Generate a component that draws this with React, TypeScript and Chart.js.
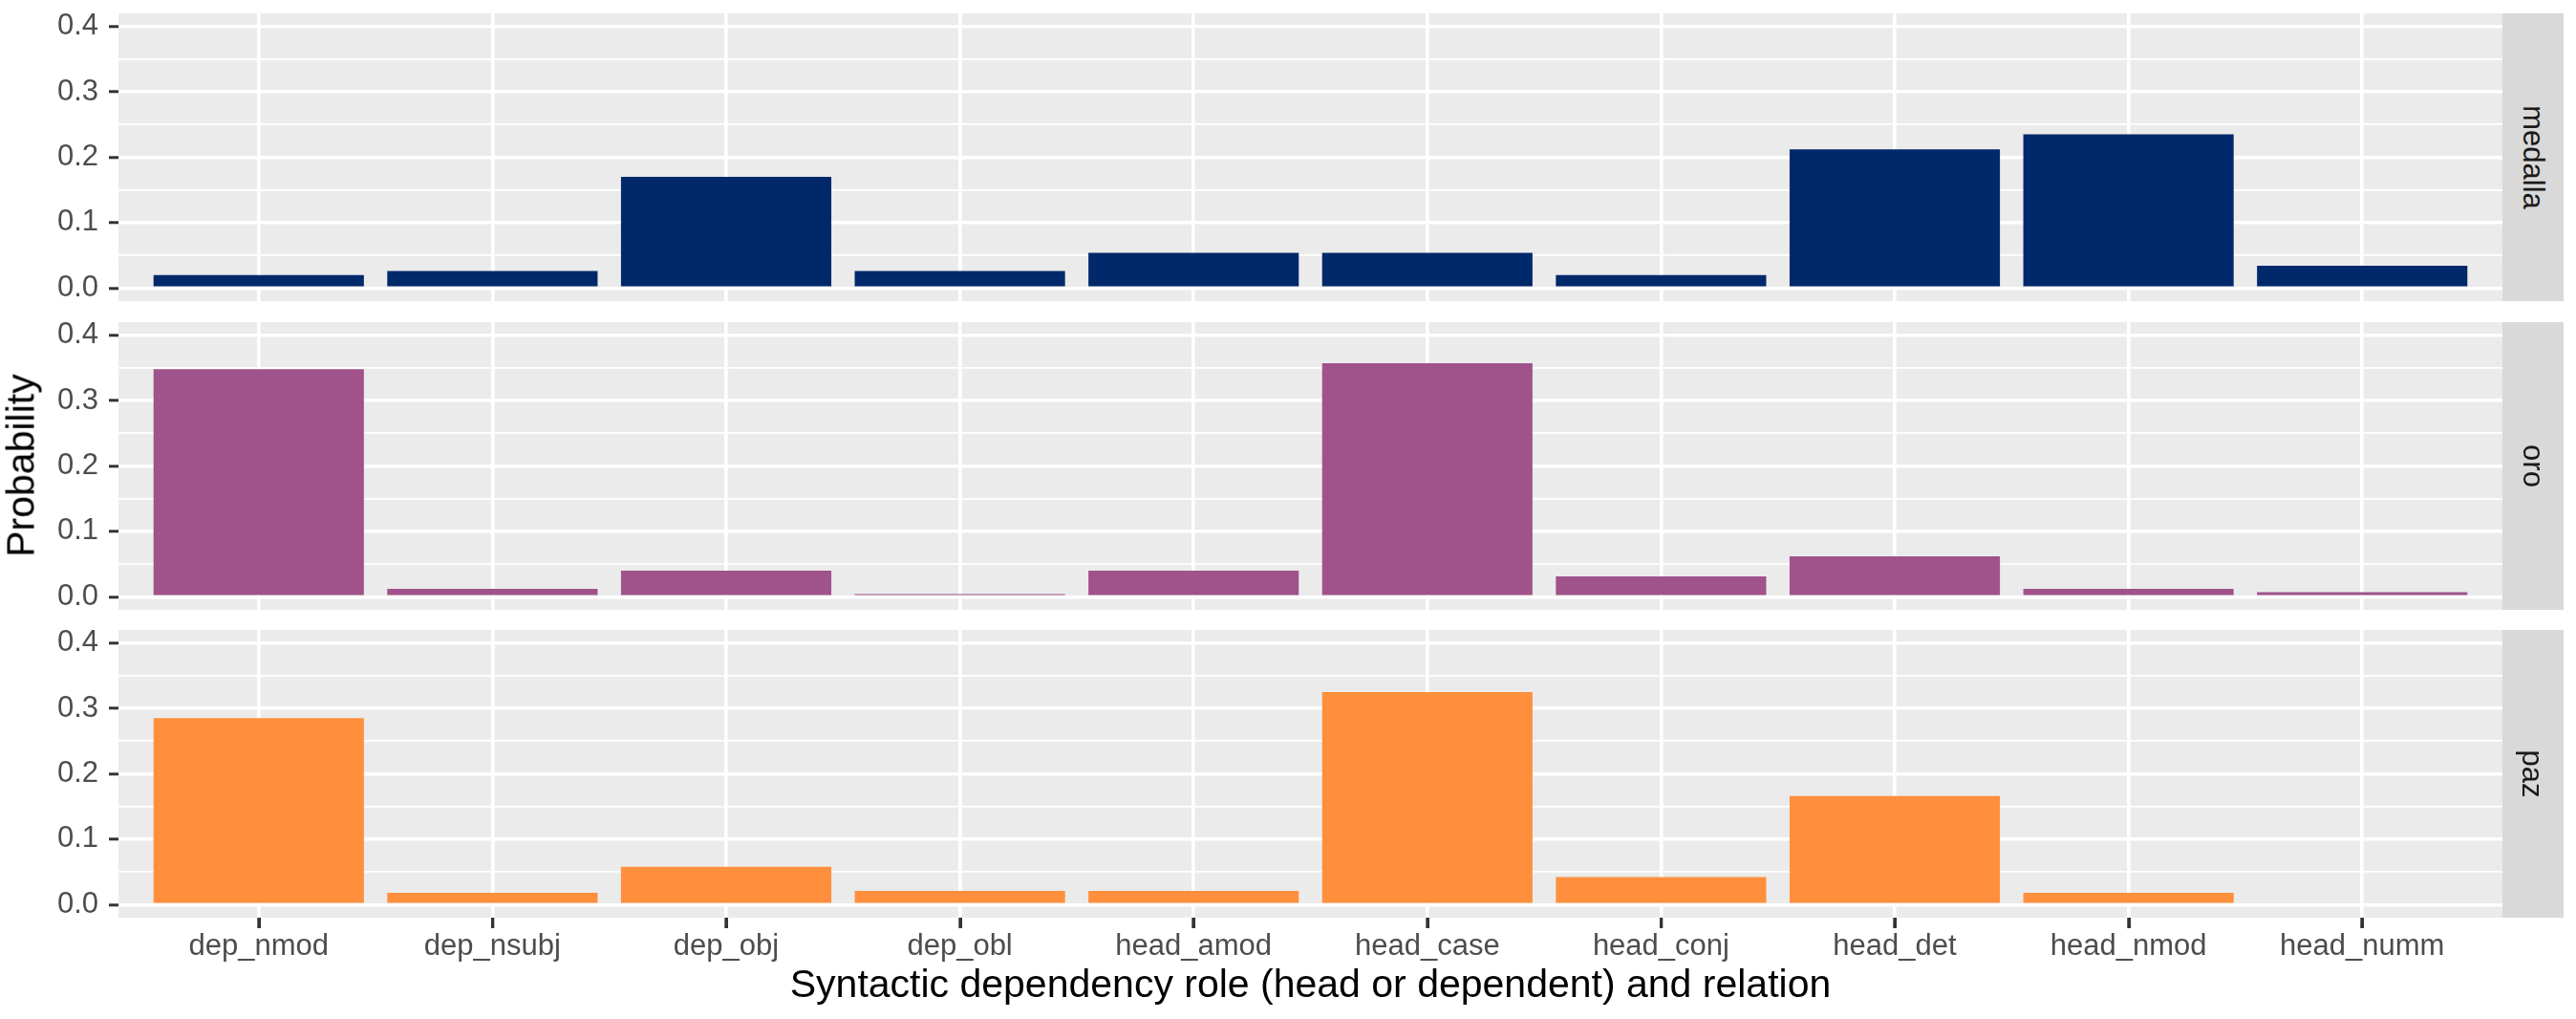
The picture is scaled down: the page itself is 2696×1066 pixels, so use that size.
import React, { useEffect, useRef } from "react";
import { Chart, registerables } from "chart.js";

Chart.register(...registerables);

// ---------- data ----------
const CATEGORIES = [
  "dep_nmod",
  "dep_nsubj",
  "dep_obj",
  "dep_obl",
  "head_amod",
  "head_case",
  "head_conj",
  "head_det",
  "head_nmod",
  "head_numm",
];
const FACETS = ["medalla", "oro", "paz"];
const MEDALLA = [0.020, 0.026, 0.170, 0.026, 0.054, 0.054, 0.020, 0.212, 0.235, 0.034];
const ORO = [0.348, 0.012, 0.040, 0.004, 0.040, 0.357, 0.031, 0.062, 0.012, 0.007];
const PAZ = [0.285, 0.018, 0.058, 0.021, 0.021, 0.325, 0.042, 0.166, 0.018, 0];
const SERIES = [MEDALLA, ORO, PAZ];
const COLORS = ["#00296B", "#A0528A", "#FF8F3D"];
const Y_TICKS = [0, 0.05, 0.1, 0.15, 0.2, 0.25, 0.3, 0.35, 0.4];
const Y_MIN = -0.02;
const Y_MAX = 0.42;
const X_MIN = -0.6;
const X_MAX = 9.6;
const X_TITLE = "Syntactic dependency role (head or dependent) and relation";
const Y_TITLE = "Probability";

// ---------- layout ----------
const FONT = '"Liberation Sans", Arial, Helvetica, sans-serif';
const PANEL_TOPS = [14, 337, 659];
const PANEL_H = 301;
const PLOT_LEFT = 124;
const PLOT_RIGHT = 2619;
const STRIP_W = 64;
const PAD = 10;
const X_AXIS_H = 106;
const X_TICK_LEN = 11;

const isMajor = (v: number) => Math.abs(v * 10 - Math.round(v * 10)) < 1e-6;

const bgPlugin = {
  id: "panelBg",
  beforeDraw(chart: any) {
    const { ctx, chartArea } = chart;
    ctx.save();
    ctx.fillStyle = "#EBEBEB";
    ctx.fillRect(chartArea.left, chartArea.top, chartArea.right - chartArea.left, chartArea.bottom - chartArea.top);
    ctx.restore();
  },
};

// draws the x-axis tick marks below the bottom panel, through the x scale
const xTickPlugin = {
  id: "xTickMarks",
  afterDraw(chart: any) {
    const { ctx, chartArea } = chart;
    const xs = chart.scales.x;
    ctx.save();
    ctx.strokeStyle = "#333333";
    ctx.lineWidth = 3;
    ctx.beginPath();
    CATEGORIES.forEach((_, i) => {
      const px = Math.round(xs.getPixelForValue(i)) + 0.5;
      ctx.moveTo(px, chartArea.bottom);
      ctx.lineTo(px, chartArea.bottom + X_TICK_LEN);
    });
    ctx.stroke();
    ctx.restore();
  },
};

function Panel({ index }: { index: number }) {
  const ref = useRef<HTMLCanvasElement>(null);
  const isBottom = index === 2;
  const top = PANEL_TOPS[index] - PAD;
  const height = PANEL_H + PAD + (isBottom ? X_AXIS_H : PAD);
  const width = PLOT_RIGHT + 1;

  useEffect(() => {
    if (!ref.current) return;
    const values = SERIES[index];
    const chart = new Chart(ref.current, {
      type: "bar",
      data: {
        datasets: [
          {
            data: CATEGORIES.map((_, i) => ({ x: i, y: values[i] })),
            backgroundColor: COLORS[index],
            borderWidth: 0,
            barPercentage: 0.9,
            categoryPercentage: 1.0,
          } as any,
        ],
      },
      options: {
        animation: false,
        responsive: false,
        maintainAspectRatio: false,
        layout: { padding: { left: 0, right: 1, top: PAD, bottom: isBottom ? 0 : PAD } },
        plugins: {
          legend: { display: false },
          tooltip: { enabled: false },
          title: { display: false },
        },
        scales: {
          x: {
            type: "linear",
            min: X_MIN,
            max: X_MAX,
            offset: false,
            afterBuildTicks: (s: any) => {
              s.ticks = CATEGORIES.map((_, i) => ({ value: i }));
            },
            afterFit: (s: any) => {
              s.height = isBottom ? X_AXIS_H : 0;
              s.paddingLeft = 0;
              s.paddingRight = 0;
            },
            grid: {
              offset: false,
              color: "#FFFFFF",
              lineWidth: 3.6,
              drawTicks: isBottom,
              tickLength: X_TICK_LEN,
              tickColor: "#333333",
              tickWidth: 3,
            },
            border: { display: false },
            ticks: {
              display: isBottom,
              autoSkip: false,
              maxRotation: 0,
              minRotation: 0,
              padding: 1,
              color: "#4D4D4D",
              font: { family: FONT, size: 31 },
              callback: (v: any) => CATEGORIES[Math.round(Number(v))] ?? "",
            },
          },
          y: {
            type: "linear",
            min: Y_MIN,
            max: Y_MAX,
            afterBuildTicks: (s: any) => {
              s.ticks = Y_TICKS.map((v) => ({ value: v }));
            },
            afterFit: (s: any) => {
              s.width = PLOT_LEFT;
              s.paddingTop = 0;
              s.paddingBottom = 0;
            },
            grid: {
              offset: false,
              color: "#FFFFFF",
              lineWidth: (ctx: any) => (ctx.tick && isMajor(ctx.tick.value) ? 3.6 : 1.8),
              tickLength: 10,
              tickColor: (ctx: any) => (ctx.tick && isMajor(ctx.tick.value) ? "#333333" : "rgba(0,0,0,0)"),
              tickWidth: 3,
            },
            border: { display: false },
            ticks: {
              autoSkip: false,
              padding: 11,
              color: "#4D4D4D",
              font: { family: FONT, size: 31 },
              callback: (v: any) => (isMajor(Number(v)) ? Number(v).toFixed(1) : ""),
            },
          },
        },
      } as any,
      plugins: isBottom ? [bgPlugin, xTickPlugin] : [bgPlugin],
    });
    return () => chart.destroy();
  }, [index]);

  return (
    <canvas
      ref={ref}
      width={width}
      height={height}
      style={{ position: "absolute", left: 0, top, width, height }}
    />
  );
}

export default function App() {
  return (
    <div
      style={{
        position: "fixed",
        left: 0,
        top: 0,
        width: 2696,
        height: 1066,
        background: "#FFFFFF",
        overflow: "hidden",
        fontFamily: FONT,
      }}
    >
      {FACETS.map((_, i) => (
        <Panel key={i} index={i} />
      ))}
      {FACETS.map((name, i) => (
        <div
          key={name}
          style={{
            position: "absolute",
            left: PLOT_RIGHT,
            top: PANEL_TOPS[i],
            width: STRIP_W,
            height: PANEL_H,
            background: "#D9D9D9",
            display: "flex",
            alignItems: "center",
            justifyContent: "center",
          }}
        >
          <div
            style={{
              transform: "rotate(90deg)",
              whiteSpace: "nowrap",
              fontSize: 31,
              lineHeight: 1,
              color: "#1A1A1A",
            }}
          >
            {name}
          </div>
        </div>
      ))}
      <div
        style={{
          position: "absolute",
          left: 22,
          top: 487,
          transform: "translate(-50%, -50%) rotate(-90deg)",
          whiteSpace: "nowrap",
          fontSize: 41,
          lineHeight: 1,
          color: "#000000",
        }}
      >
        {Y_TITLE}
      </div>
      <div
        style={{
          position: "absolute",
          left: (PLOT_LEFT + PLOT_RIGHT) / 2,
          top: 1009,
          transform: "translateX(-50%)",
          whiteSpace: "nowrap",
          fontSize: 41,
          lineHeight: 1,
          color: "#000000",
        }}
      >
        {X_TITLE}
      </div>
    </div>
  );
}
